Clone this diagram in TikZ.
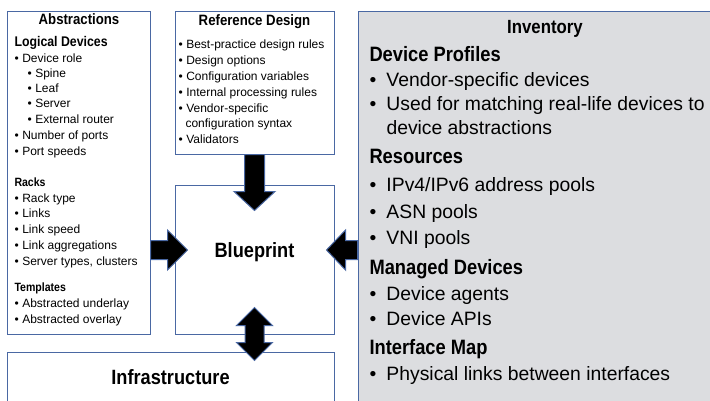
\documentclass[tikz,border=0pt]{standalone}
\usepackage{fontspec}
\setmainfont{Liberation Sans}
\newfontfamily\condfont[FakeStretch=0.88]{Liberation Sans}
\usetikzlibrary{calc,fit}
\definecolor{boxblue}{RGB}{74,104,163}
\definecolor{invgray}{RGB}{220,221,224}
\newcommand{\bul}{\makebox[0.65em][l]{\textbullet}}
\newcommand{\bigbul}{\makebox[0.88em][l]{\textbullet}}

\tikzset{every picture/.style={line width=0.75pt}}
\tikzset{
  box/.style={draw=boxblue, inner sep=0pt},
  blockarrow/.style={fill=black, draw=boxblue, line join=miter},
  boxtitle/.style={anchor=base, inner sep=0pt, font=\condfont\bfseries\fontsize{11.25}{13}\selectfont},
  invtitle/.style={anchor=base, inner sep=0pt, font=\condfont\bfseries\fontsize{14.3}{16}\selectfont},
  bigtitle/.style={font=\condfont\bfseries\fontsize{15.5}{18}\selectfont},
  subhead/.style={anchor=base west, inner sep=0pt, font=\condfont\bfseries\fontsize{10.5}{12}\selectfont},
  smallhead/.style={anchor=base west, inner sep=0pt, font=\condfont\bfseries\fontsize{9}{11}\selectfont},
  smallitem/.style={anchor=base west, inner sep=0pt, font=\fontsize{9}{11}\selectfont},
  invhead/.style={anchor=base west, inner sep=0pt, font=\condfont\bfseries\fontsize{15.6}{18}\selectfont},
  invitem/.style={anchor=base west, inner sep=0pt, font=\fontsize{14.5}{17}\selectfont}
}

\begin{document}
\begin{tikzpicture}[x=0.75pt,y=0.75pt,yscale=-1,xscale=1]
\useasboundingbox (0,0) rectangle (710,400);
\clip (0,0) rectangle (710,400);

% Boxes
\node[box, fit={(7,11) (150,334)}] (abs) {};
\node[box, fit={(175,11) (334,154)}] (ref) {};
\node[box, fit={(175,185) (334,334)}, bigtitle] (bp) {Blueprint};
\node[box, fit={(7,352) (334,402)}] (infra) {};
\node[box, fill=invgray, fit={(358,11) (716,406)}] (inv) {};

% Titles
\node[boxtitle] (abstitle) at (79,24) {Abstractions};
\node[boxtitle] (reftitle) at (254.5,25) {Reference Design};
\node[invtitle] (invtitle) at (545,33) {Inventory};
\node[bigtitle, anchor=base] (infratitle) at (170.5,384) {Infrastructure};

% Text Node -- abstractions
\foreach \x/\y/\s/\t [count=\i] in {
  14/46/subhead/{Logical Devices},
  14/62/smallitem/{\bul Device role},
  27/77/smallitem/{\bul Spine},
  27/92/smallitem/{\bul Leaf},
  27/107/smallitem/{\bul Server},
  27/123/smallitem/{\bul External router},
  14/139/smallitem/{\bul Number of ports},
  14/155/smallitem/{\bul Port speeds},
  14/186/smallhead/{Racks},
  14/202/smallitem/{\bul Rack type},
  14/217/smallitem/{\bul Links},
  14/233/smallitem/{\bul Link speed},
  14/249/smallitem/{\bul Link aggregations},
  14/265/smallitem/{\bul Server types, clusters},
  14/291/smallhead/{Templates},
  14/307/smallitem/{\bul Abstracted underlay},
  14/323/smallitem/{\bul Abstracted overlay}}
  \node[\s] (abs\i) at (\x,\y) {\t};

% Text Node -- reference design
\foreach \x/\y/\t [count=\i] in {
  178/48/{\bul Best-practice design rules},
  178/64/{\bul Design options},
  178/80/{\bul Configuration variables},
  178/96/{\bul Internal processing rules},
  178/112/{\bul Vendor-specific},
  185/127/{configuration syntax},
  178/143/{\bul Validators}}
  \node[smallitem] (ref\i) at (\x,\y) {\t};

% Text Node -- inventory
\foreach \x/\y/\s/\t [count=\i] in {
  369/61.7/invhead/{Device Profiles},
  369/86/invitem/{\bigbul Vendor-specific devices},
  369/110/invitem/{\bigbul Used for matching real-life devices to},
  386/134/invitem/{device abstractions},
  369/163/invhead/{Resources},
  369/191/invitem/{\bigbul IPv4/IPv6 address pools},
  369/218/invitem/{\bigbul ASN pools},
  369/244/invitem/{\bigbul VNI pools},
  369/274/invhead/{Managed Devices},
  369/300/invitem/{\bigbul Device agents},
  369/325/invitem/{\bigbul Device APIs},
  369/354/invhead/{Interface Map},
  369/380/invitem/{\bigbul Physical links between interfaces}}
  \node[\s] (inv\i) at (\x,\y) {\t};

% Connection -- reference design to blueprint
\draw[blockarrow] ($(ref.south)+(-10,0)$) -- ($(bp.north)+(-10,7)$) -- ($(bp.north)+(-20.5,7)$)
  -- ($(bp.north)+(0,26)$) -- ($(bp.north)+(20.5,7)$) -- ($(bp.north)+(10,7)$) -- ($(ref.south)+(10,0)$) -- cycle;
% Connection -- abstractions to blueprint
\draw[blockarrow] ($(abs.east |- bp.west)+(0,-19)$) -- ($(bp.west)+(-7,-19)$) -- ($(bp.west)+(-7,-29.5)$)
  -- ($(bp.west)+(13,-9.5)$) -- ($(bp.west)+(-7,10.5)$) -- ($(bp.west)+(-7,0)$) -- (abs.east |- bp.west) -- cycle;
% Connection -- inventory to blueprint
\draw[blockarrow] ($(inv.west |- bp.east)+(0,-19)$) -- ($(bp.east)+(11,-19)$) -- ($(bp.east)+(11,-29.5)$)
  -- ($(bp.east)+(-8,-9.5)$) -- ($(bp.east)+(11,10.5)$) -- ($(bp.east)+(11,0)$) -- (inv.west |- bp.east) -- cycle;
% Connection -- blueprint to infrastructure
\draw[blockarrow] ($(bp.south)+(0,-27)$) -- ($(bp.south)+(18,-9)$) -- ($(bp.south)+(9.5,-9)$)
  -- ($(infra.north -| bp.south)+(9.5,-9)$) -- ($(infra.north -| bp.south)+(18,-9)$) -- ($(infra.north -| bp.south)+(0,9)$)
  -- ($(infra.north -| bp.south)+(-18,-9)$) -- ($(infra.north -| bp.south)+(-9.5,-9)$) -- ($(bp.south)+(-9.5,-9)$)
  -- ($(bp.south)+(-18,-9)$) -- cycle;

\end{tikzpicture}
\end{document}
